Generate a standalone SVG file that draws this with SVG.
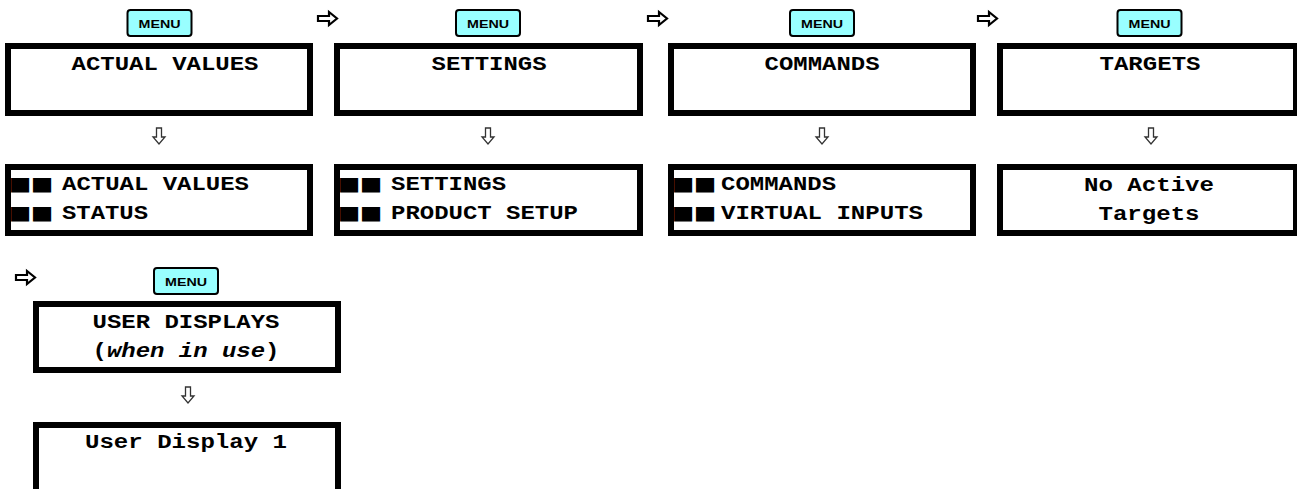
<svg xmlns="http://www.w3.org/2000/svg" width="1297" height="489" viewBox="0 0 1297 489">
<defs>
<style>
.box{fill:#fff;stroke:#000;stroke-width:6}
.btn{fill:#99ffff;stroke:#000;stroke-width:2}
.btxt{font-family:"Liberation Sans",Arial,sans-serif;font-weight:bold;font-size:11.5px;fill:#000;text-anchor:middle}
.t{font-family:"Liberation Mono","Courier New",monospace;font-weight:bold;font-size:20px;fill:#000}
.c{text-anchor:middle}
.sq{font-family:"DejaVu Sans",sans-serif;font-size:19px;fill:#000}
.ra{fill:#fff;stroke:#000;stroke-width:2.2;stroke-linejoin:miter}
.da{fill:#fff;stroke:#333;stroke-width:1.3}
</style>
<path id="rarrow" class="ra" d="M0,4 H11 V0 L19,6.5 L11,13 V9 H0 Z"/>
<path id="darrow" class="da" d="M-2.5,0 H2.5 V9 H6 L0,16 L-6,9 H-2.5 Z"/>
</defs>
<rect width="1297" height="489" fill="#fff"/>

<g id="connectors">
<use href="#rarrow" x="318" y="12"/>
<use href="#rarrow" x="648" y="12"/>
<use href="#rarrow" x="978" y="12"/>
<use href="#rarrow" x="16" y="271"/>
<use href="#darrow" x="159" y="128"/>
<use href="#darrow" x="488" y="128"/>
<use href="#darrow" x="822" y="128"/>
<use href="#darrow" x="1151" y="128"/>
<use href="#darrow" x="188" y="387"/>
</g>

<g id="menu1"><rect class="btn" x="127.5" y="10" width="64" height="26" rx="3"/><text class="btxt" x="159.5" y="27.5" textLength="42" lengthAdjust="spacingAndGlyphs">MENU</text></g>
<g id="menu2"><rect class="btn" x="456" y="10" width="64" height="26" rx="3"/><text class="btxt" x="488" y="27.5" textLength="42" lengthAdjust="spacingAndGlyphs">MENU</text></g>
<g id="menu3"><rect class="btn" x="790" y="10" width="64" height="26" rx="3"/><text class="btxt" x="822" y="27.5" textLength="42" lengthAdjust="spacingAndGlyphs">MENU</text></g>
<g id="menu4"><rect class="btn" x="1117.5" y="10" width="64" height="26" rx="3"/><text class="btxt" x="1149.5" y="27.5" textLength="42" lengthAdjust="spacingAndGlyphs">MENU</text></g>
<g id="menu5"><rect class="btn" x="154" y="268" width="64" height="26" rx="3"/><text class="btxt" x="186" y="285.5" textLength="42" lengthAdjust="spacingAndGlyphs">MENU</text></g>

<g id="actual-values">
<rect class="box" x="8" y="46" width="302" height="67"/>
<text class="t c" x="165" y="70" textLength="187" lengthAdjust="spacingAndGlyphs">ACTUAL VALUES</text>
</g>
<g id="settings">
<rect class="box" x="337" y="46" width="303" height="67"/>
<text class="t c" x="489" y="70" textLength="115" lengthAdjust="spacingAndGlyphs">SETTINGS</text>
</g>
<g id="commands">
<rect class="box" x="671" y="46" width="302" height="67"/>
<text class="t c" x="822" y="70" textLength="115" lengthAdjust="spacingAndGlyphs">COMMANDS</text>
</g>
<g id="targets">
<rect class="box" x="1000" y="46" width="296" height="67"/>
<text class="t c" x="1150" y="70" textLength="101" lengthAdjust="spacingAndGlyphs">TARGETS</text>
</g>

<g id="actual-values-status">
<rect class="box" x="8" y="167" width="302" height="66"/>
<text class="sq" transform="translate(9,190) scale(1.25,1)"><tspan x="0">■</tspan><tspan x="17.6">■</tspan></text>
<text class="t" x="62" y="190" textLength="187" lengthAdjust="spacingAndGlyphs">ACTUAL VALUES</text>
<text class="sq" transform="translate(9,219) scale(1.25,1)"><tspan x="0">■</tspan><tspan x="17.6">■</tspan></text>
<text class="t" x="62" y="219" textLength="86" lengthAdjust="spacingAndGlyphs">STATUS</text>
</g>
<g id="settings-product-setup">
<rect class="box" x="337" y="167" width="303" height="66"/>
<text class="sq" transform="translate(338,190) scale(1.25,1)"><tspan x="0">■</tspan><tspan x="17.6">■</tspan></text>
<text class="t" x="391" y="190" textLength="115" lengthAdjust="spacingAndGlyphs">SETTINGS</text>
<text class="sq" transform="translate(338,219) scale(1.25,1)"><tspan x="0">■</tspan><tspan x="17.6">■</tspan></text>
<text class="t" x="391" y="219" textLength="187" lengthAdjust="spacingAndGlyphs">PRODUCT SETUP</text>
</g>
<g id="commands-virtual-inputs">
<rect class="box" x="671" y="167" width="302" height="66"/>
<text class="sq" transform="translate(672,190) scale(1.25,1)"><tspan x="0">■</tspan><tspan x="17.6">■</tspan></text>
<text class="t" x="721" y="190" textLength="115" lengthAdjust="spacingAndGlyphs">COMMANDS</text>
<text class="sq" transform="translate(672,219) scale(1.25,1)"><tspan x="0">■</tspan><tspan x="17.6">■</tspan></text>
<text class="t" x="721" y="219" textLength="202" lengthAdjust="spacingAndGlyphs">VIRTUAL INPUTS</text>
</g>
<g id="no-active-targets">
<rect class="box" x="1000" y="167" width="296" height="66"/>
<text class="t c" x="1149" y="191" textLength="130" lengthAdjust="spacingAndGlyphs">No Active</text>
<text class="t c" x="1149" y="220" textLength="101" lengthAdjust="spacingAndGlyphs">Targets</text>
</g>

<g id="user-displays">
<rect class="box" x="36" y="304" width="302" height="66"/>
<text class="t c" x="186" y="328" textLength="187" lengthAdjust="spacingAndGlyphs">USER DISPLAYS</text>
<text class="t c" x="186" y="357" textLength="187" lengthAdjust="spacingAndGlyphs">(<tspan font-style="italic">when in use</tspan>)</text>
</g>
<g id="user-display-1">
<rect class="box" x="36" y="425" width="302" height="80"/>
<text class="t c" x="186" y="448" textLength="202" lengthAdjust="spacingAndGlyphs">User Display 1</text>
</g>
</svg>
